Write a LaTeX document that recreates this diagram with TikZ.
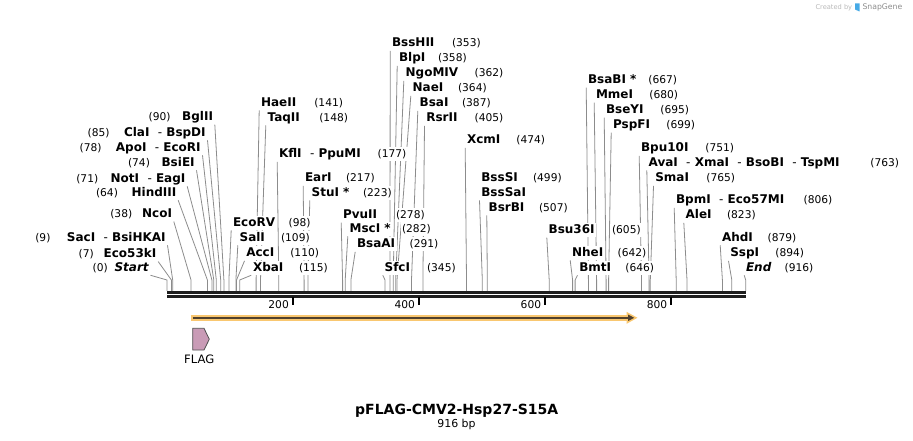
\documentclass[tikz,border=0pt]{standalone}
\usepackage{fontspec}
\setmainfont{DejaVu Sans}
\usetikzlibrary{backgrounds}

\tikzset{every picture/.style={line width=0.75pt}}
\tikzset{
  cutname/.style={font=\fontsize{9}{10}\selectfont\bfseries, fill=white, inner sep=1pt, text height=6.8pt, text depth=1.8pt},
  cutpos/.style={font=\fontsize{8}{9}\selectfont, fill=white, inner sep=1pt, text height=6.8pt, text depth=1.8pt},
  leader/.style={draw={rgb, 255:red, 140; green, 140; blue, 140}, line width=0.6pt},
  ticklab/.style={font=\fontsize{8}{9}\selectfont, inner sep=0.75pt}
}
\newcommand{\cutsep}{\ \ \textmd{-}\ }

\begin{document}
\begin{tikzpicture}[x=0.75pt,y=0.75pt,yscale=-1,xscale=1]
\useasboundingbox (0,0) rectangle (913,441);

%Sites: cut positions just above the backbone
\coordinate (s0) at (167,280);
\coordinate (s7) at (171.4,280);
\coordinate (s9) at (172.7,280);
\coordinate (s38) at (191,280);
\coordinate (s64) at (207.4,280);
\coordinate (s71) at (211.9,280);
\coordinate (s74) at (213.8,280);
\coordinate (s78) at (216.3,280);
\coordinate (s85) at (220.7,280);
\coordinate (s90) at (223.9,280);
\coordinate (s98) at (228.9,280);
\coordinate (s109) at (235.9,280);
\coordinate (s110) at (236.5,280);
\coordinate (s115) at (239.7,280);
\coordinate (s141) at (256.1,280);
\coordinate (s148) at (260.5,280);
\coordinate (s177) at (278.8,280);
\coordinate (s217) at (304.1,280);
\coordinate (s223) at (307.9,280);
\coordinate (s278) at (342.6,280);
\coordinate (s282) at (345.2,280);
\coordinate (s291) at (350.9,280);
\coordinate (s345) at (385,280);
\coordinate (s353) at (390,280);
\coordinate (s358) at (393.2,280);
\coordinate (s362) at (395.7,280);
\coordinate (s364) at (397,280);
\coordinate (s387) at (411.5,280);
\coordinate (s405) at (422.9,280);
\coordinate (s474) at (466.5,280);
\coordinate (s499) at (482.3,280);
\coordinate (s507) at (487.3,280);
\coordinate (s605) at (549.2,280);
\coordinate (s642) at (572.6,280);
\coordinate (s646) at (575.1,280);
\coordinate (s667) at (588.4,280);
\coordinate (s680) at (596.6,280);
\coordinate (s695) at (606.1,280);
\coordinate (s699) at (608.6,280);
\coordinate (s751) at (641.5,280);
\coordinate (s763) at (649.1,280);
\coordinate (s765) at (650.3,280);
\coordinate (s806) at (676.2,280);
\coordinate (s823) at (687,280);
\coordinate (s879) at (722.4,280);
\coordinate (s894) at (731.8,280);
\coordinate (s916) at (745.7,280);

% Left labels
\draw (214.8,117) node [anchor=east][cutname] (bglII) {BglII};
\draw (146.8,117) node [anchor=west][cutpos] (p90) {(90)};
\draw (207.5,132.7) node [anchor=east][cutname] (claI) {ClaI\cutsep BspDI};
\draw (85.8,132.7) node [anchor=west][cutpos] (p85) {(85)};
\draw (202.5,147.7) node [anchor=east][cutname] (apoI) {ApoI\cutsep EcoRI};
\draw (77.8,147.7) node [anchor=west][cutpos] (p78) {(78)};
\draw (196.5,162.7) node [anchor=east][cutname] (bsiEI) {BsiEI};
\draw (126.2,162.7) node [anchor=west][cutpos] (p74) {(74)};
\draw (187.2,178.7) node [anchor=east][cutname] (notI) {NotI\cutsep EagI};
\draw (74.5,178.7) node [anchor=west][cutpos] (p71) {(71)};
\draw (178.2,192.7) node [anchor=east][cutname] (hindIII) {HindIII};
\draw (94.2,192.7) node [anchor=west][cutpos] (p64) {(64)};
\draw (173.8,214) node [anchor=east][cutname] (ncoI) {NcoI};
\draw (108.5,214) node [anchor=west][cutpos] (p38) {(38)};
\draw (167.5,237.7) node [anchor=east][cutname] (sacI) {SacI\cutsep BsiHKAI};
\draw (33.5,237.7) node [anchor=west][cutpos] (p9) {(9)};
\draw (158.2,254) node [anchor=east][cutname] (eco53kI) {Eco53kI};
\draw (76.8,254) node [anchor=west][cutpos] (p7) {(7)};
\draw (150.5,267.7) node [anchor=east][cutname] (start) {\itshape Start};
\draw (90.8,267.7) node [anchor=west][cutpos] (p0) {(0)};

% Right labels
\draw (259.2,102.7) node [anchor=west][cutname] (haeII) {HaeII};
\draw (312.5,102.7) node [anchor=west][cutpos] (p141) {(141)};
\draw (265.8,117.7) node [anchor=west][cutname] (taqII) {TaqII};
\draw (317.5,117.7) node [anchor=west][cutpos] (p148) {(148)};
\draw (277.2,154.3) node [anchor=west][cutname] (kflI) {KflI\cutsep PpuMI};
\draw (375.8,154.3) node [anchor=west][cutpos] (p177) {(177)};
\draw (303.2,178.3) node [anchor=west][cutname] (earI) {EarI};
\draw (344.2,178.3) node [anchor=west][cutpos] (p217) {(217)};
\draw (309.8,192.7) node [anchor=west][cutname] (stuI) {StuI *};
\draw (361.2,192.7) node [anchor=west][cutpos] (p223) {(223)};
\draw (231.2,222.7) node [anchor=west][cutname] (ecoRV) {EcoRV};
\draw (286.8,222.7) node [anchor=west][cutpos] (p98) {(98)};
\draw (237.8,237.7) node [anchor=west][cutname] (salI) {SalI};
\draw (279.2,237.7) node [anchor=west][cutpos] (p109) {(109)};
\draw (244.5,253.3) node [anchor=west][cutname] (accI) {AccI};
\draw (288.5,253.3) node [anchor=west][cutpos] (p110) {(110)};
\draw (251.2,267.7) node [anchor=west][cutname] (xbaI) {XbaI};
\draw (297.2,267.7) node [anchor=west][cutpos] (p115) {(115)};
\draw (341.2,215) node [anchor=west][cutname] (pvuII) {PvuII};
\draw (394.2,215) node [anchor=west][cutpos] (p278) {(278)};
\draw (347.8,228.7) node [anchor=west][cutname] (mscI) {MscI *};
\draw (400.2,228.7) node [anchor=west][cutpos] (p282) {(282)};
\draw (355.2,244.3) node [anchor=west][cutname] (bsaAI) {BsaAI};
\draw (407.8,244.3) node [anchor=west][cutpos] (p291) {(291)};
\draw (382.8,267.7) node [anchor=west][cutname] (sfcI) {SfcI};
\draw (425.2,267.7) node [anchor=west][cutpos] (p345) {(345)};
\draw (390.2,43.3) node [anchor=west][cutname] (bssHII) {BssHII};
\draw (450.2,43.3) node [anchor=west][cutpos] (p353) {(353)};
\draw (397.2,58.3) node [anchor=west][cutname] (blpI) {BlpI};
\draw (436.2,58.3) node [anchor=west][cutpos] (p358) {(358)};
\draw (403.8,73.3) node [anchor=west][cutname] (ngoMIV) {NgoMIV};
\draw (472.8,73.3) node [anchor=west][cutpos] (p362) {(362)};
\draw (410.8,88.3) node [anchor=west][cutname] (naeI) {NaeI};
\draw (456.2,88.3) node [anchor=west][cutpos] (p364) {(364)};
\draw (417.8,103.3) node [anchor=west][cutname] (bsaI) {BsaI};
\draw (460.2,103.3) node [anchor=west][cutpos] (p387) {(387)};
\draw (424.5,118.3) node [anchor=west][cutname] (rsrII) {RsrII};
\draw (472.8,118.3) node [anchor=west][cutpos] (p405) {(405)};
\draw (465.2,140.3) node [anchor=west][cutname] (xcmI) {XcmI};
\draw (514.5,140.3) node [anchor=west][cutpos] (p474) {(474)};
\draw (479.5,177.7) node [anchor=west][cutname] (bssSI) {BssSI};
\draw (531.2,177.7) node [anchor=west][cutpos] (p499) {(499)};
\draw (479.5,192.7) node [anchor=west][cutname] (bssSaI) {BssSaI};
\draw (486.8,207.7) node [anchor=west][cutname] (bsrBI) {BsrBI};
\draw (537.2,207.7) node [anchor=west][cutpos] (p507) {(507)};
\draw (546.8,230) node [anchor=west][cutname] (bsu36I) {Bsu36I};
\draw (610.2,230) node [anchor=west][cutpos] (p605) {(605)};
\draw (570.2,252.7) node [anchor=west][cutname] (nheI) {NheI};
\draw (615.8,252.7) node [anchor=west][cutpos] (p642) {(642)};
\draw (577.5,267.7) node [anchor=west][cutname] (bmtI) {BmtI};
\draw (623.5,267.7) node [anchor=west][cutpos] (p646) {(646)};
\draw (586.2,80) node [anchor=west][cutname] (bsaBI) {BsaBI *};
\draw (646.5,80) node [anchor=west][cutpos] (p667) {(667)};
\draw (594.2,95) node [anchor=west][cutname] (mmeI) {MmeI};
\draw (647.5,95) node [anchor=west][cutpos] (p680) {(680)};
\draw (604.2,110) node [anchor=west][cutname] (bseYI) {BseYI};
\draw (658.5,110) node [anchor=west][cutpos] (p695) {(695)};
\draw (611.2,125) node [anchor=west][cutname] (pspFI) {PspFI};
\draw (664.5,125) node [anchor=west][cutpos] (p699) {(699)};
\draw (639.2,148.3) node [anchor=west][cutname] (bpu10I) {Bpu10I};
\draw (703.5,148.3) node [anchor=west][cutpos] (p751) {(751)};
\draw (646.8,162.7) node [anchor=west][cutname] (avaI) {AvaI\cutsep XmaI\cutsep BsoBI\cutsep TspMI};
\draw (868.5,162.7) node [anchor=west][cutpos] (p763) {(763)};
\draw (653.5,178.3) node [anchor=west][cutname] (smaI) {SmaI};
\draw (704.5,178.3) node [anchor=west][cutpos] (p765) {(765)};
\draw (674.2,200.3) node [anchor=west][cutname] (bpmI) {BpmI\cutsep Eco57MI};
\draw (801.8,200.3) node [anchor=west][cutpos] (p806) {(806)};
\draw (683.8,215.3) node [anchor=west][cutname] (aleI) {AleI};
\draw (725.2,215.3) node [anchor=west][cutpos] (p823) {(823)};
\draw (720.2,237.7) node [anchor=west][cutname] (ahdI) {AhdI};
\draw (765.8,237.7) node [anchor=west][cutpos] (p879) {(879)};
\draw (728.5,253.3) node [anchor=west][cutname] (sspI) {SspI};
\draw (773.5,253.3) node [anchor=west][cutpos] (p894) {(894)};
\draw (744.2,267.7) node [anchor=west][cutname] (end) {\itshape End};
\draw (782.8,267.7) node [anchor=west][cutpos] (p916) {(916)};

% Leaders
\begin{scope}[on background layer]
\draw[leader] (start.south east) -- (s0) -- ++(0,11);
\draw[leader] (eco53kI.south east) -- (s7) -- ++(0,11);
\draw[leader] (sacI.south east) -- (s9) -- ++(0,11);
\draw[leader] (ncoI.south east) -- (s38) -- ++(0,11);
\draw[leader] (hindIII.south east) -- (s64) -- ++(0,11);
\draw[leader] (notI.south east) -- (s71) -- ++(0,11);
\draw[leader] (bsiEI.south east) -- (s74) -- ++(0,11);
\draw[leader] (apoI.south east) -- (s78) -- ++(0,11);
\draw[leader] (claI.south east) -- (s85) -- ++(0,11);
\draw[leader] (bglII.south east) -- (s90) -- ++(0,11);
\draw[leader] (ecoRV.south west) -- (s98) -- ++(0,11);
\draw[leader] (salI.south west) -- (s109) -- ++(0,11);
\draw[leader] (accI.south west) -- (s110) -- ++(0,11);
\draw[leader] (xbaI.south west) -- (s115) -- ++(0,11);
\draw[leader] (haeII.south west) -- (s141) -- ++(0,11);
\draw[leader] (taqII.south west) -- (s148) -- ++(0,11);
\draw[leader] (kflI.south west) -- (s177) -- ++(0,11);
\draw[leader] (earI.south west) -- (s217) -- ++(0,11);
\draw[leader] (stuI.south west) -- (s223) -- ++(0,11);
\draw[leader] (pvuII.south west) -- (s278) -- ++(0,11);
\draw[leader] (mscI.south west) -- (s282) -- ++(0,11);
\draw[leader] (bsaAI.south west) -- (s291) -- ++(0,11);
\draw[leader] (sfcI.south west) -- (s345) -- ++(0,11);
\draw[leader] (bssHII.south west) -- (s353) -- ++(0,11);
\draw[leader] (blpI.south west) -- (s358) -- ++(0,11);
\draw[leader] (ngoMIV.south west) -- (s362) -- ++(0,11);
\draw[leader] (naeI.south west) -- (s364) -- ++(0,11);
\draw[leader] (bsaI.south west) -- (s387) -- ++(0,11);
\draw[leader] (rsrII.south west) -- (s405) -- ++(0,11);
\draw[leader] (xcmI.south west) -- (s474) -- ++(0,11);
\draw[leader] (bssSaI.south west) -- (s499) -- ++(0,11);
\draw[leader] (bsrBI.south west) -- (s507) -- ++(0,11);
\draw[leader] (bsu36I.south west) -- (s605) -- ++(0,11);
\draw[leader] (nheI.south west) -- (s642) -- ++(0,11);
\draw[leader] (bmtI.south west) -- (s646) -- ++(0,11);
\draw[leader] (bsaBI.south west) -- (s667) -- ++(0,11);
\draw[leader] (mmeI.south west) -- (s680) -- ++(0,11);
\draw[leader] (bseYI.south west) -- (s695) -- ++(0,11);
\draw[leader] (pspFI.south west) -- (s699) -- ++(0,11);
\draw[leader] (bpu10I.south west) -- (s751) -- ++(0,11);
\draw[leader] (avaI.south west) -- (s763) -- ++(0,11);
\draw[leader] (smaI.south west) -- (s765) -- ++(0,11);
\draw[leader] (bpmI.south west) -- (s806) -- ++(0,11);
\draw[leader] (aleI.south west) -- (s823) -- ++(0,11);
\draw[leader] (ahdI.south west) -- (s879) -- ++(0,11);
\draw[leader] (sspI.south west) -- (s894) -- ++(0,11);
\draw[leader] (end.south west) -- (s916) -- ++(0,11);
\end{scope}

%Shape: Backbone
\fill [color={rgb, 255:red, 30; green, 30; blue, 30 }] (166.7,291) rectangle (745.7,294.2);
\fill [color={rgb, 255:red, 30; green, 30; blue, 30 }] (166.7,295.3) rectangle (745.7,297.6);
%Ticks
\draw [line width=1.5] (292.7,297) -- (292.7,305.5);
\draw [line width=1.5] (418.8,297) -- (418.8,305.5);
\draw [line width=1.5] (545,297) -- (545,305.5);
\draw [line width=1.5] (671,297) -- (671,305.5);
\draw (290.3,304.5) node [anchor=east][ticklab] (t200) {200};
\draw (416.4,304.5) node [anchor=east][ticklab] (t400) {400};
\draw (542.6,304.5) node [anchor=east][ticklab] (t600) {600};
\draw (668.6,304.5) node [anchor=east][ticklab] (t800) {800};

%Shape: ORF arrow
\draw [draw={rgb, 255:red, 249; green, 199; blue, 112 }, line width=4.3pt] (190.5,317.8) -- (629,317.8);
\fill [fill={rgb, 255:red, 249; green, 199; blue, 112 }] (626.5,311.8) -- (637.5,317.8) -- (626.5,323.8) -- cycle;
\draw [draw={rgb, 255:red, 80; green, 64; blue, 45 }, line width=1.6pt] (192.5,317.8) -- (629,317.8);
\fill [fill={rgb, 255:red, 80; green, 64; blue, 45 }] (628.2,314.6) -- (634.2,317.8) -- (628.2,321) -- cycle;

%Shape: FLAG feature
\draw [draw={rgb, 255:red, 80; green, 80; blue, 80 }, fill={rgb, 255:red, 201; green, 155; blue, 182 }, line width=0.6pt] (192.7,328.3) -- (204,328.3) -- (209.3,339.2) -- (204,350) -- (192.7,350) -- cycle;
\draw (199.3,359.5) node [font=\fontsize{8.7}{10}\selectfont, inner sep=0.75pt] (flag) {FLAG};

% Title
\draw (456.7,410.5) node [font=\fontsize{10.5}{12}\selectfont\bfseries, inner sep=0.75pt] (title) {pFLAG-CMV2-Hsp27-S15A};
\draw (456.5,424) node [font=\fontsize{8.2}{10}\selectfont, inner sep=0.75pt] (size) {916 bp};

% Credit
\draw (815,7.5) node [anchor=west][font=\fontsize{5}{6}\selectfont, text={rgb, 255:red, 185; green, 185; blue, 185 }, inner sep=0pt] (created) {Created by};
\fill [fill={rgb, 255:red, 70; green, 170; blue, 230 }] (855,3.5) -- (859.5,3.5) -- (859.5,11.5) -- (855,9.5) -- cycle;
\draw (862,7.5) node [anchor=west][font=\fontsize{5.8}{7}\selectfont, text={rgb, 255:red, 140; green, 140; blue, 140 }, inner sep=0pt] (snapgene) {SnapGene};

\end{tikzpicture}
\end{document}
